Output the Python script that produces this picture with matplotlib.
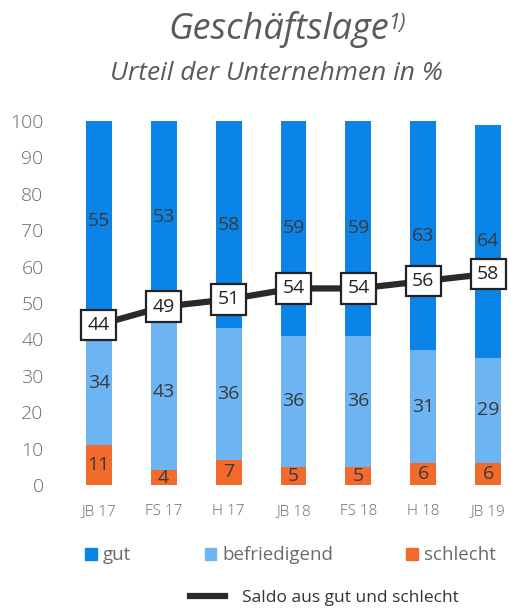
import matplotlib.pyplot as plt
from matplotlib.patches import Patch
from matplotlib.lines import Line2D
import numpy as np

plt.rcParams['font.family'] = ['Open Sans', 'DejaVu Sans']

labels = ["JB 17", "FS 17", "H 17", "JB 18", "FS 18", "H 18", "JB 19"]
schlecht = [11, 4, 7, 5, 5, 6, 6]
befriedigend = [34, 43, 36, 36, 36, 31, 29]
gut = [55, 53, 58, 59, 59, 63, 64]
saldo = [44, 49, 51, 54, 54, 56, 58]

c_gut = "#0b84e8"
c_bef = "#6db5f2"
c_sch = "#f26a2c"
grey = "#6a6a6a"

fig = plt.figure(figsize=(5.11, 6.09), dpi=100)
# axes placed in pixels: x from ~63 to 511, y 0 at 485px, 100 at 121px
ax = fig.add_axes([63/511, 124/609, 448/511, 364/609])

x = np.arange(len(labels))
w = 0.4
b1 = ax.bar(x, schlecht, w, color=c_sch)
b2 = ax.bar(x, befriedigend, w, bottom=schlecht, color=c_bef)
bot = np.array(schlecht) + np.array(befriedigend)
b3 = ax.bar(x, gut, w, bottom=bot, color=c_gut)

for bars in (b1, b2, b3):
    ax.bar_label(bars, label_type='center', fontsize=14, color="#3a3a3a")

ax.plot(x, saldo, color="#2a2a2a", lw=4.5, zorder=3)
for xi, v in zip(x, saldo):
    ax.text(xi, v, str(v), ha='center', va='center', fontsize=14, color="#222222", zorder=4,
            bbox=dict(boxstyle='square,pad=0.32', fc='white', ec='#222222', lw=1.6))

ax.set_xlim(-0.55, 6.35)
ax.set_ylim(0, 100)
ax.set_yticks(range(0, 101, 10))
ax.set_xticks(x, labels)
for s in ax.spines.values():
    s.set_visible(False)
ax.tick_params(axis='y', length=0, labelsize=14, labelcolor=grey, pad=14)
ax.tick_params(axis='x', length=0, labelsize=11, labelcolor=grey, pad=14)
for lab in ax.get_yticklabels() + ax.get_xticklabels():
    lab.set_fontweight('light')

t = fig.text(0.545, 0.951, "Geschäftslage", ha='center', va='center', fontsize=26,
             style='italic', color="#5a5a5a")
ax.annotate("1)", xy=(1.0, 0.95), xycoords=t, ha='left', va='top', fontsize=15,
            style='italic', color="#5a5a5a", annotation_clip=False)
fig.text(0.54, 0.880, "Urteil der Unternehmen in %", ha='center', va='center', fontsize=19,
         style='italic', color="#5a5a5a")

h1 = [Patch(color=c_gut), Patch(color=c_bef), Patch(color=c_sch)]
fig.legend(h1, ["gut", "befriedigend", "schlecht"], ncol=3, loc='center',
           bbox_to_anchor=(0.569, 0.088), frameon=False, fontsize=13.5,
           handlelength=0.6, handleheight=0.6, handletextpad=0.35,
           columnspacing=3.9, labelcolor=grey)
h2 = [Line2D([], [], color="#2a2a2a", lw=4.5)]
fig.legend(h2, ["Saldo aus gut und schlecht"], loc='center', bbox_to_anchor=(0.635, 0.018),
           frameon=False, fontsize=12.5, handlelength=2.0, handletextpad=1.0,
           labelcolor="#333333")

fig.savefig("out.png", dpi=100)
